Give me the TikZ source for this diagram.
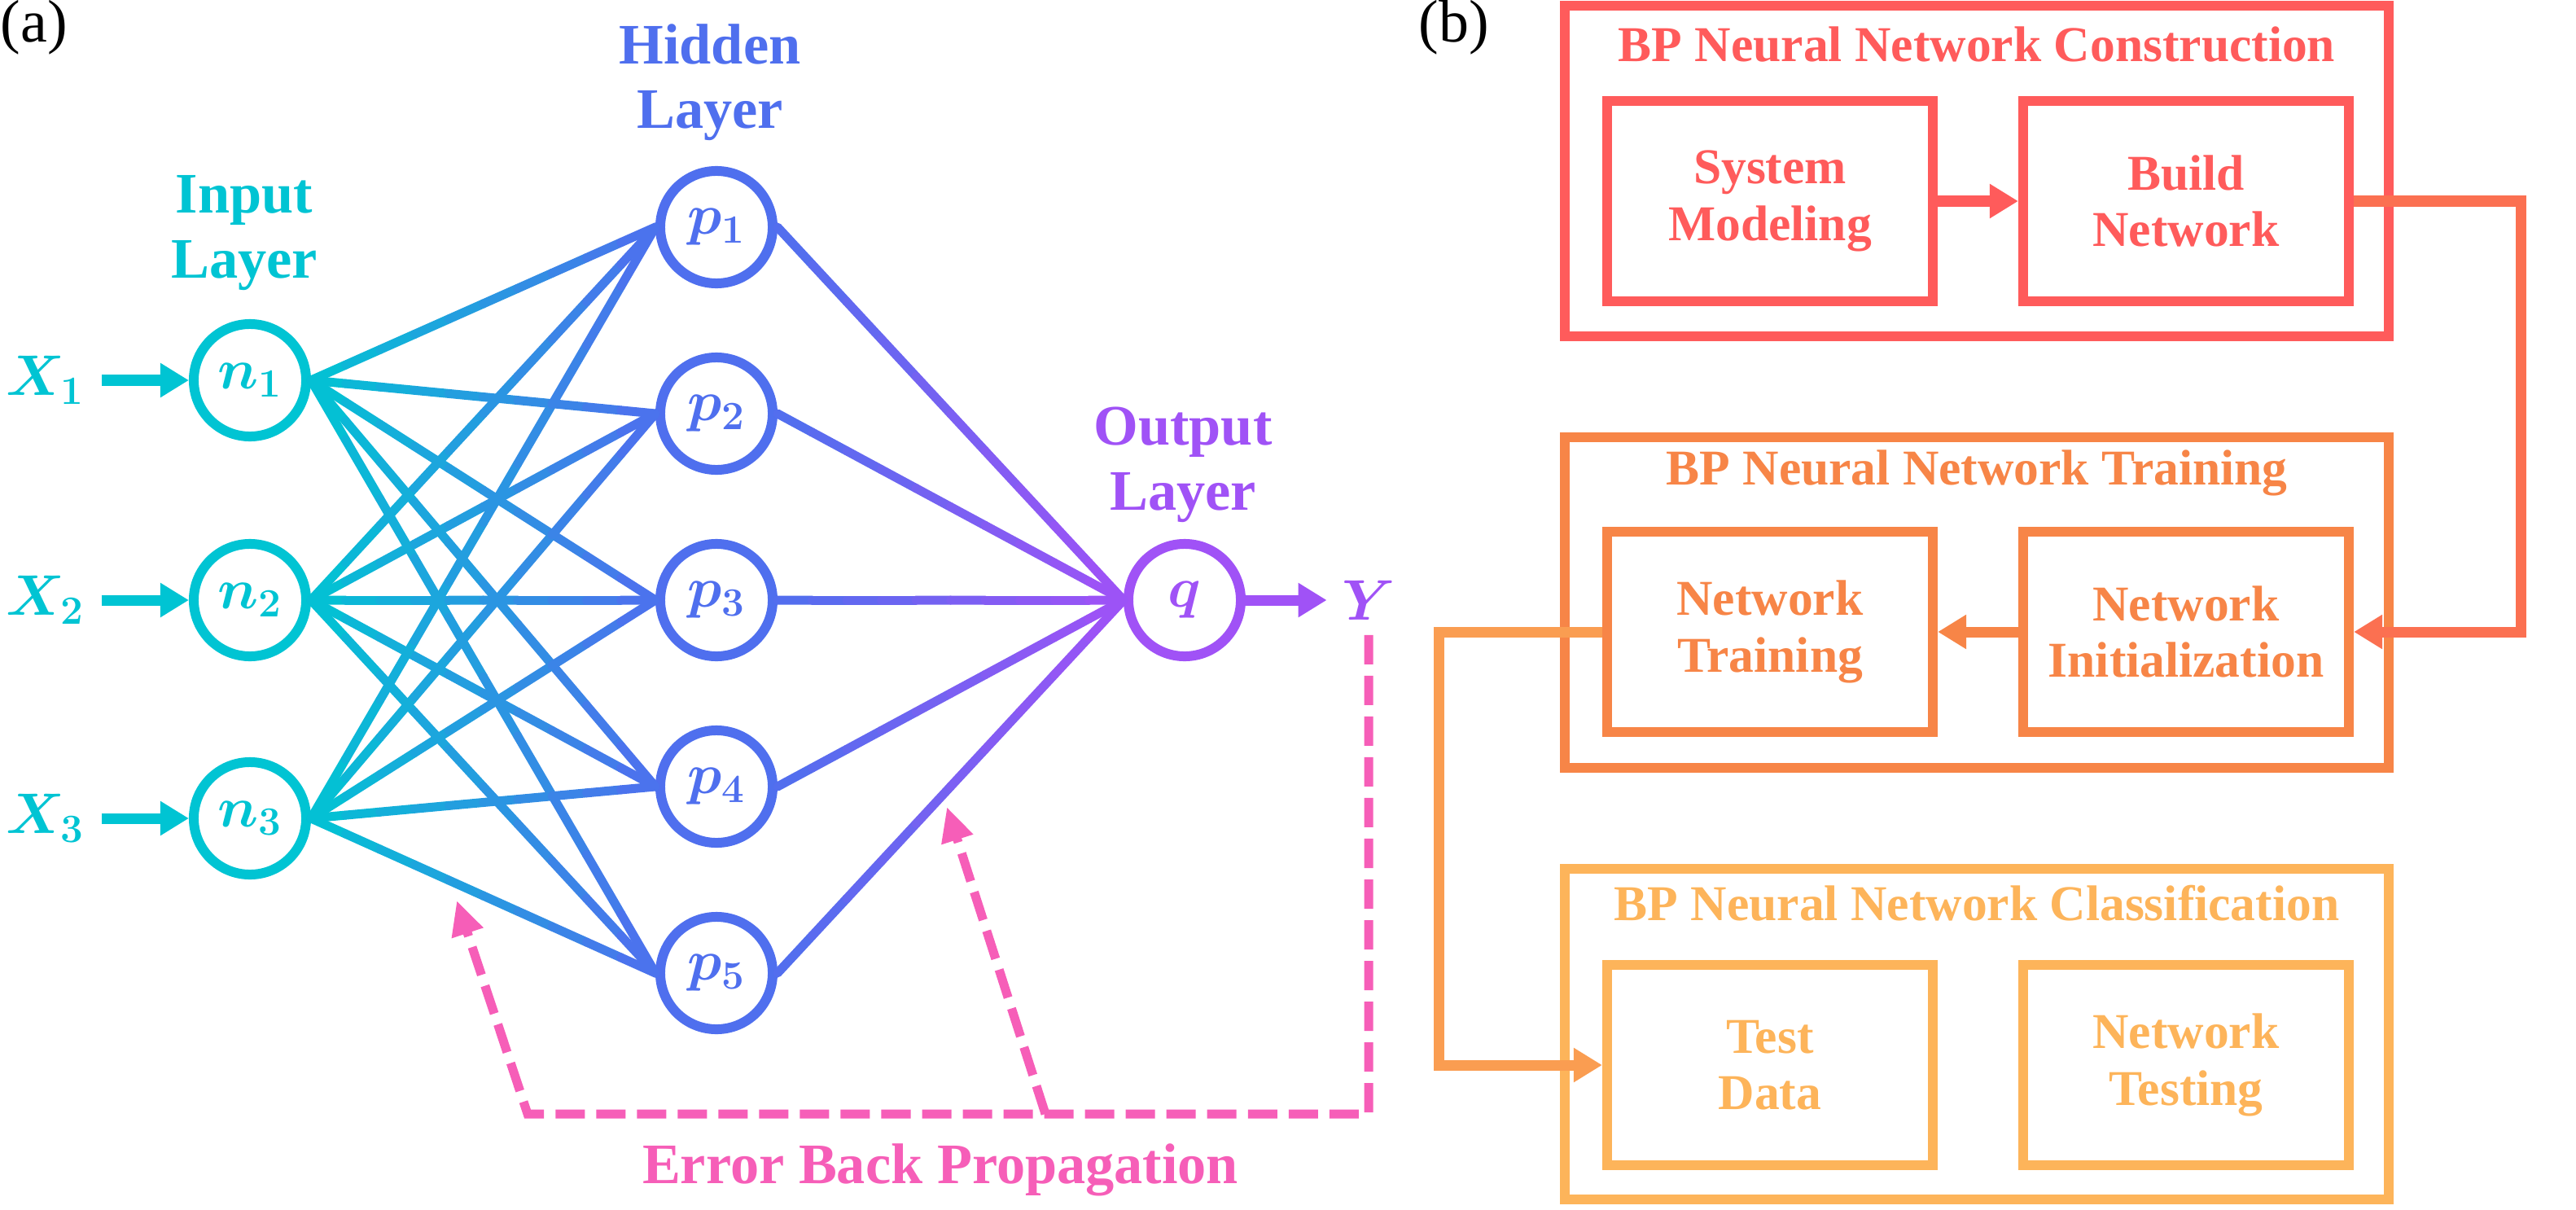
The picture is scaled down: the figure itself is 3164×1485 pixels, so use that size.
\RequirePackage{fix-cm}
\documentclass[tikz,border=0pt]{standalone}
\usepackage[no-math]{fontspec}
\setmainfont{Liberation Serif}[BoldFont={Liberation Serif Bold}]
\usetikzlibrary{arrows.meta,positioning,calc}

\definecolor{incyan}{RGB}{0,196,211}
\definecolor{hidblue}{RGB}{79,111,238}
\definecolor{outpurple}{RGB}{160,82,246}
\definecolor{errpink}{RGB}{246,94,184}
\definecolor{stagered}{RGB}{255,91,91}
\definecolor{stageorange}{RGB}{247,133,71}
\definecolor{stageyellow}{RGB}{253,180,90}

\begin{document}
\begin{tikzpicture}[x=0.01cm,y=-0.01cm,
  neuron/.style={circle,draw,line width=0.12cm,minimum size=1.38cm,inner sep=0pt,
    font=\fontsize{20}{22}\selectfont\boldmath},
  layerlab/.style={align=center,font=\fontsize{20}{22.6}\selectfont\bfseries},
  sig/.style={inner sep=0.2cm,font=\fontsize{20}{22}\selectfont\boldmath},
  link/.style={line width=0.11cm,line cap=round},
  feed/.style={line width=0.13cm,-{Triangle[length=0.35cm,width=0.4cm]}},
  backprop/.style={errpink,line width=0.11cm,dash pattern=on 0.36cm off 0.14cm,
    -{Triangle[length=0.42cm,width=0.38cm]}},
  stage/.style={draw,line width=0.12cm,minimum width=10.11cm,minimum height=4.05cm,inner sep=0pt},
  stagetitle/.style={font=\fontsize{17.5}{19.8}\selectfont\bfseries},
  procbox/.style={draw,line width=0.12cm,minimum width=4cm,minimum height=2.46cm,
    inner sep=0pt,align=center,font=\fontsize{17.5}{19.8}\selectfont\bfseries},
  tag/.style={anchor=north west,inner sep=0pt,font=\fontsize{21}{23}\selectfont}]
\useasboundingbox (0,0) rectangle (3164,1485);
% Panel labels
\node[tag] (tagA) at (0,0) {(a)};
\node[tag] (tagB) at (1742,0) {(b)};
% Input layer with its signals
\foreach \i/\y in {1/467,2/737,3/1005} {
  \node[neuron,draw=incyan,text=incyan] (n\i) at (307,\y) {$n_\i$};
  \node[sig,text=incyan] (x\i) at (56,\y) {$X_\i$};
  \draw[feed,incyan] (x\i) -- (n\i);
}
% Hidden layer
\foreach \j/\y in {1/279,2/508,3/737,4/966,5/1195} {
  \node[neuron,draw=hidblue,text=hidblue] (p\j) at (880,\y) {$p_\j$};
}
% Output layer
\node[neuron,draw=outpurple,text=outpurple] (q) at (1455,737) {$q$};
\node[sig,inner sep=0.18cm,text=outpurple] (Y) at (1681,737) {$Y$};
\draw[feed,outpurple] (q) -- (Y);
% Layer names
\node[layerlab,text=incyan] (inL) at (300,286) {Input\\Layer};
\node[layerlab,text=hidblue] (hidL) at (872,101) {Hidden\\Layer};
\node[layerlab,text=outpurple] (outL) at (1453,571) {Output\\Layer};
% Weights, shaded from layer to layer in short pieces
\foreach \i in {1,2,3}
  \foreach \j in {1,...,5}
    \foreach \k in {0,...,9} {
      \pgfmathtruncatemacro\tone{10*\k+5}
      \draw[link,hidblue!\tone!incyan]
        ($(n\i.east)!\k/10!(p\j.west)$) -- ($(n\i.east)!\k/10+0.1!(p\j.west)$);
    }
\foreach \j in {1,...,5}
  \foreach \k in {0,...,9} {
    \pgfmathtruncatemacro\tone{10*\k+5}
    \draw[link,outpurple!\tone!hidblue]
      ($(p\j.east)!\k/10!(q.west)$) -- ($(p\j.east)!\k/10+0.1!(q.west)$);
  }
% Error back propagation
\coordinate (errR) at (1681,1368);
\coordinate (errL) at (648,1368);
\coordinate (errM) at (1284,1368);
\coordinate (errTipA) at (561,1106);
\coordinate (errTipB) at (1163,991);
\draw[backprop] (Y.south) -- (errR) -- (errL) -- (errTipA);
\draw[backprop] (errM) -- (errTipB);
\node[layerlab,text=errpink] (errT) at (1155,1437) {Error Back Propagation};
% Stage frames
\node[stage,draw=stagered] (construct) at (2428,210) {};
\node[stage,draw=stageorange] (training) at (2428,740) {};
\node[stage,draw=stageyellow] (classify) at (2428,1270) {};
\node[stagetitle,text=stagered] (constructT) at ($(construct.north)+(0,53)$) {BP Neural Network Construction};
\node[stagetitle,text=stageorange] (trainingT) at ($(training.north)+(0,50)$) {BP Neural Network Training};
\node[stagetitle,text=stageyellow] (classifyT) at ($(classify.north)+(0,48)$) {BP Neural Network Classification};
% Steps
\node[procbox,draw=stagered,text=stagered] (sysmod) at (2174,247) {System\\Modeling};
\node[procbox,draw=stagered,text=stagered] (build) at (2685,247) {Build\\Network};
\node[procbox,draw=stageorange,text=stageorange] (train) at (2174,776) {Network\\Training};
\node[procbox,draw=stageorange,text=stageorange] (init) at (2685,776) {Network\\Initialization};
\node[procbox,draw=stageyellow,text=stageyellow] (test) at (2174,1308) {Test\\Data};
\node[procbox,draw=stageyellow,text=stageyellow] (ntest) at (2685,1308) {Network\\Testing};
% Flow between steps
\coordinate (turnR) at (3096,247);
\coordinate (turnL) at (1767,776);
\draw[feed,stagered] (sysmod) -- (build);
\draw[feed,stagered!50!stageorange] (build) -- (turnR) |- (init);
\draw[feed,stageorange] (init) -- (train);
\draw[feed,stageorange!50!stageyellow] (train) -- (turnL) |- (test);
\end{tikzpicture}
\end{document}
